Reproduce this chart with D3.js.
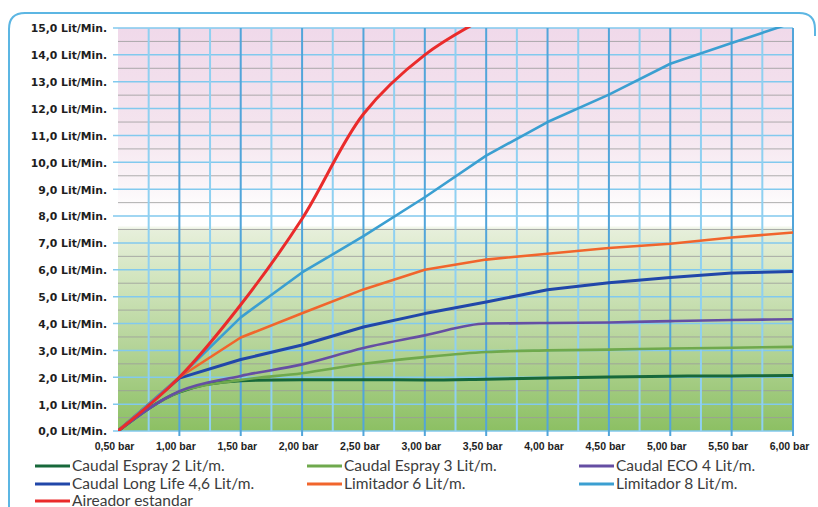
<!DOCTYPE html>
<html><head><meta charset="utf-8">
<script src="https://cdn.jsdelivr.net/npm/d3@7"></script>
<style>body{margin:0;background:#fff}svg{display:block}</style>
</head><body><svg id="c" width="818" height="507"></svg>
<script>
const pressures = [0.5,1.0,1.5,2.0,2.5,3.0,3.5,4.0,4.5,5.0,5.5,6.0];
const xTickLabels = ["0,50 bar","1,00 bar","1,50 bar","2,00 bar","2,50 bar","3,00 bar","3,50 bar","4,00 bar","4,50 bar","5,00 bar","5,50 bar","6,00 bar"];
const yTicks = [0,1,2,3,4,5,6,7,8,9,10,11,12,13,14,15];
const yTickLabels = ["0,0 Lit/Min.","1,0 Lit/Min.","2,0 Lit/Min.","3,0 Lit/Min.","4,0 Lit/Min.","5,0 Lit/Min.","6,0 Lit/Min.","7,0 Lit/Min.","8,0 Lit/Min.","9,0 Lit/Min.","10,0 Lit/Min.","11,0 Lit/Min.","12,0 Lit/Min.","13,0 Lit/Min.","14,0 Lit/Min.","15,0 Lit/Min."];

const seriesNames = ["Caudal Espray 2 Lit/m.","Caudal Espray 3 Lit/m.","Caudal ECO 4 Lit/m.","Caudal Long Life 4,6 Lit/m.","Limitador 6 Lit/m.","Limitador 8 Lit/m.","Aireador estandar"];
const espray2   = [0,1.45,1.87,1.91,1.91,1.90,1.93,1.97,2.01,2.04,2.05,2.07];
const espray3   = [0,1.45,1.90,2.15,2.50,2.75,2.94,3.00,3.03,3.07,3.10,3.13];
const eco4      = [0,1.48,2.05,2.48,3.09,3.56,4.00,4.02,4.04,4.09,4.13,4.16];
const longLife  = [0,1.97,2.66,3.20,3.87,4.37,4.80,5.26,5.52,5.71,5.88,5.94];
const limit6    = [0,2.0,3.48,4.38,5.27,6.0,6.38,6.6,6.81,6.97,7.2,7.39];
const limit8    = [0,2.0,4.23,5.9,7.25,8.7,10.25,11.5,12.52,13.67,14.44,15.2];
const aireador  = [0,2.0,4.7,7.9,11.8,14.0,15.4];
const seriesValues = [espray2,espray3,eco4,longLife,limit6,limit8,aireador];
const seriesColors = ["#17683a","#6fa94d","#654ea3","#2147a9","#f1652c","#3b9fd1","#ea2b2b"];
const seriesWidths = [3,2.6,2.6,3,2.6,2.6,3];

const svg = d3.select("#c");
const L=118,R=793,T=28,B=431;
const x = d3.scaleLinear().domain([0.5,6.0]).range([L,R]);
const y = d3.scaleLinear().domain([0,15]).range([B,T]);

// frame (left, top and top-right corner)
svg.append("path").attr("d","M9,515 L9,29 Q9,13 25,13 L799,13 Q815,13 815,29 L815,36")
  .attr("fill","none").attr("stroke","#5cb6e3").attr("stroke-width",2);

const defs = svg.append("defs");
const g = defs.append("linearGradient").attr("id","bg").attr("x1",0).attr("x2",0).attr("y1",0).attr("y2",1);
[[0,"#f0d9ea"],[0.25,"#f4e4ee"],[0.4,"#fbf6f9"],[0.46,"#ffffff"],[0.49,"#ffffff"],[0.5,"#e7efdb"],[0.62,"#d2e5bf"],[0.8,"#b3d396"],[1,"#8cc063"]]
  .forEach(s=>g.append("stop").attr("offset",s[0]).attr("stop-color",s[1]));
defs.append("clipPath").attr("id","clip").append("rect").attr("x",L).attr("y",T-1).attr("width",R-L+2).attr("height",B-T+1);

svg.append("rect").attr("x",L).attr("y",T).attr("width",R-L).attr("height",B-T).attr("fill","url(#bg)");

// gray half lines
const halves = d3.range(0.5,15,1);
svg.append("g").selectAll("line").data(halves).join("line")
  .attr("x1",L).attr("x2",R).attr("y1",d=>y(d)).attr("y2",d=>y(d))
  .attr("stroke","#9c9c9c").attr("stroke-width",1).attr("opacity",0.8);
// blue integer lines
svg.append("g").selectAll("line").data(yTicks).join("line")
  .attr("x1",L-5).attr("x2",R).attr("y1",d=>y(d)).attr("y2",d=>y(d))
  .attr("stroke","#82c9ee").attr("stroke-width",1.5);
// vertical minor lines
const minors = d3.range(0.75,6,0.5);
svg.append("g").selectAll("line").data(minors).join("line")
  .attr("x1",d=>x(d)).attr("x2",d=>x(d)).attr("y1",T).attr("y2",B)
  .attr("stroke","#8fd0f1").attr("stroke-width",2);
// vertical major lines
svg.append("g").selectAll("line").data(pressures.slice(1)).join("line")
  .attr("x1",d=>x(d)).attr("x2",d=>x(d)).attr("y1",T).attr("y2",B+5)
  .attr("stroke","#52a5da").attr("stroke-width",2);

// axes labels
const xAxis = d3.axisBottom(x).tickValues(pressures).tickFormat((d,i)=>xTickLabels[i]).tickSize(0).tickPadding(12);
const xa = svg.append("g").attr("transform",`translate(-4,${B})`).call(xAxis);
xa.select(".domain").remove();
xa.selectAll("text").attr("font-family","'Liberation Sans',Arial,sans-serif").attr("font-weight","bold")
  .attr("font-size","10.5px").attr("fill","#1e1e1e");

const yAxis = d3.axisLeft(y).tickValues(yTicks).tickFormat((d,i)=>yTickLabels[i]).tickSize(0).tickPadding(11);
const ya = svg.append("g").attr("transform",`translate(${L},0)`).call(yAxis);
ya.select(".domain").remove();
ya.selectAll("text").attr("font-family","'DejaVu Sans',sans-serif").attr("font-weight","bold")
  .attr("font-size","10.8px").attr("fill","#1e1e1e").attr("dy","0.36em");

// curves
const curves = [d3.curveMonotoneX,d3.curveMonotoneX,d3.curveMonotoneX,d3.curveLinear,d3.curveLinear,d3.curveLinear,d3.curveCatmullRom.alpha(0.5)];
const lg = svg.append("g").attr("clip-path","url(#clip)");
seriesValues.forEach((vals,k)=>{
  const line = d3.line().x((d,i)=>x(pressures[i])).y(d=>y(d)).curve(curves[k]);
  lg.append("path").datum(vals).attr("d",line).attr("fill","none")
    .attr("stroke",seriesColors[k]).attr("stroke-width",seriesWidths[k]).attr("stroke-linejoin","round");
});

// legend
const colX=[35,307,579], rowY=[466,484,501];
seriesNames.forEach((n,k)=>{
  const cx=colX[k%3], cy=rowY[Math.floor(k/3)];
  svg.append("line").attr("x1",cx).attr("x2",cx+35).attr("y1",cy).attr("y2",cy)
    .attr("stroke",seriesColors[k]).attr("stroke-width",3);
  svg.append("text").attr("x",cx+37).attr("y",cy+5).text(n)
    .attr("font-family","Lato,sans-serif").attr("font-size","15.5px").attr("fill","#3c3c3c");
});
</script></body></html>
